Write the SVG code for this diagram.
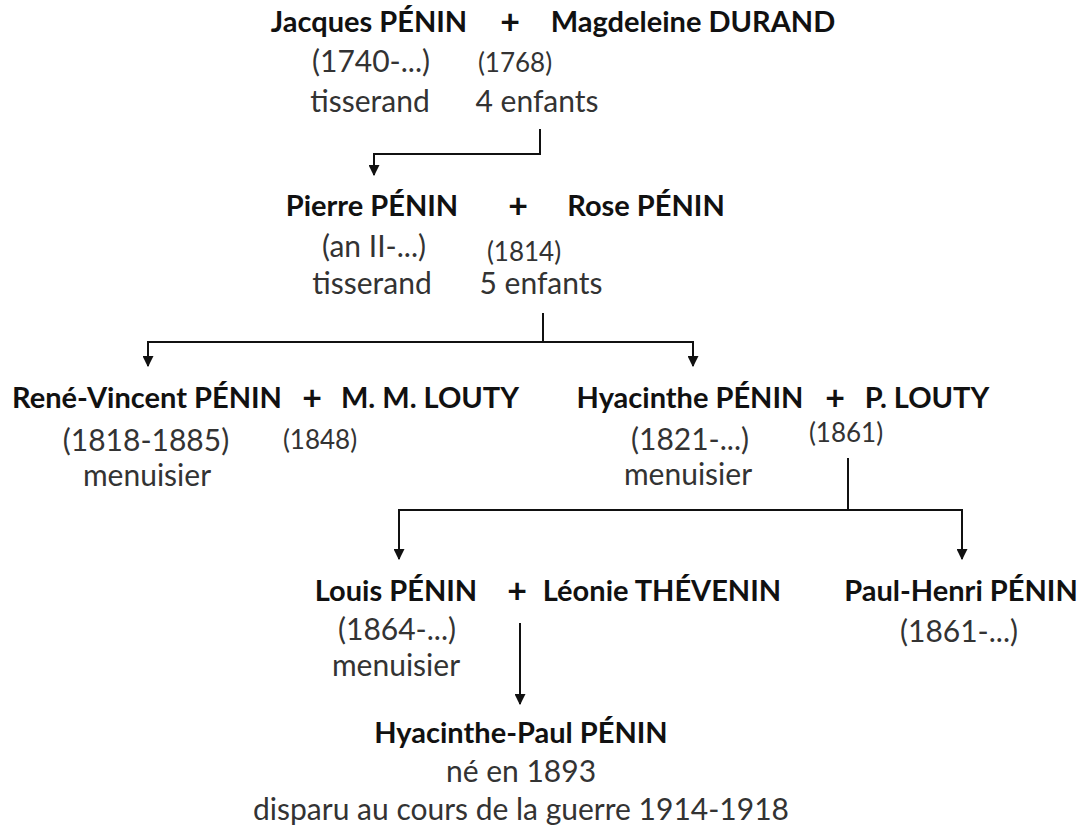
<svg xmlns="http://www.w3.org/2000/svg" width="1084" height="829" viewBox="0 0 1084 829">
<style>
text{font-family:Lato,"Liberation Sans",sans-serif;fill:#222;text-anchor:middle}
.n{font-weight:bold;font-size:29px;fill:#111}
.p{font-weight:bold;font-size:34px;fill:#111}
.r{font-size:30px;fill:#333}
.s{font-size:26px;fill:#333}
.c{fill:none;stroke:#111;stroke-width:2}
</style>
<defs>
<marker id="ah" viewBox="0 0 10 10" refX="9" refY="5" markerWidth="11" markerHeight="11" markerUnits="userSpaceOnUse" orient="auto">
<path d="M0,0 L10,5 L0,10 z" fill="#111"/>
</marker>
</defs>
<rect width="1084" height="829" fill="#fff"/>
<g id="connectors">
<path class="c" d="M540,129 V154 H374 V175" marker-end="url(#ah)"/>
<path class="c" d="M543,313 V342 H148 V366" marker-end="url(#ah)"/>
<path class="c" d="M543,342 H693 V366" marker-end="url(#ah)"/>
<path class="c" d="M848,458 V510 H399 V559" marker-end="url(#ah)"/>
<path class="c" d="M848,510 H962 V559" marker-end="url(#ah)"/>
<path class="c" d="M520,623 V704" marker-end="url(#ah)"/>
</g>
<g id="couple1">
<text class="n" x="369" y="32">Jacques PÉNIN</text>
<text class="p" x="510" y="34">+</text>
<text class="n" x="693" y="32">Magdeleine DURAND</text>
<text class="r" x="371" y="72">(1740-...)</text>
<text class="s" x="515" y="72">(1768)</text>
<text class="r" x="370" y="112">tisserand</text>
<text class="r" x="537" y="112">4 enfants</text>
</g>
<g id="couple2">
<text class="n" x="372" y="216">Pierre PÉNIN</text>
<text class="p" x="518" y="218">+</text>
<text class="n" x="646" y="216">Rose PÉNIN</text>
<text class="r" x="374" y="257">(an II-...)</text>
<text class="s" x="524" y="261">(1814)</text>
<text class="r" x="372" y="294">tisserand</text>
<text class="r" x="541" y="294">5 enfants</text>
</g>
<g id="couple3">
<text class="n" x="147" y="408">René-Vincent PÉNIN</text>
<text class="p" x="312" y="410">+</text>
<text class="n" x="430" y="408">M. M. LOUTY</text>
<text class="r" x="146" y="451">(1818-1885)</text>
<text class="s" x="320" y="449">(1848)</text>
<text class="r" x="147" y="486">menuisier</text>
</g>
<g id="couple4">
<text class="n" x="690" y="408">Hyacinthe PÉNIN</text>
<text class="p" x="835" y="410">+</text>
<text class="n" x="927" y="408">P. LOUTY</text>
<text class="r" x="690" y="450">(1821-...)</text>
<text class="s" x="846" y="442">(1861)</text>
<text class="r" x="688" y="485">menuisier</text>
</g>
<g id="couple5">
<text class="n" x="396" y="601">Louis PÉNIN</text>
<text class="p" x="517" y="603">+</text>
<text class="n" x="662" y="601">Léonie THÉVENIN</text>
<text class="r" x="397" y="640">(1864-...)</text>
<text class="r" x="396" y="676">menuisier</text>
</g>
<g id="paulhenri">
<text class="n" x="961" y="601">Paul-Henri PÉNIN</text>
<text class="r" x="959" y="642">(1861-...)</text>
</g>
<g id="hyacinthepaul">
<text class="n" x="521" y="743">Hyacinthe-Paul PÉNIN</text>
<text class="r" x="521" y="782">né en 1893</text>
<text class="r" x="521" y="820">disparu au cours de la guerre 1914-1918</text>
</g>
</svg>
